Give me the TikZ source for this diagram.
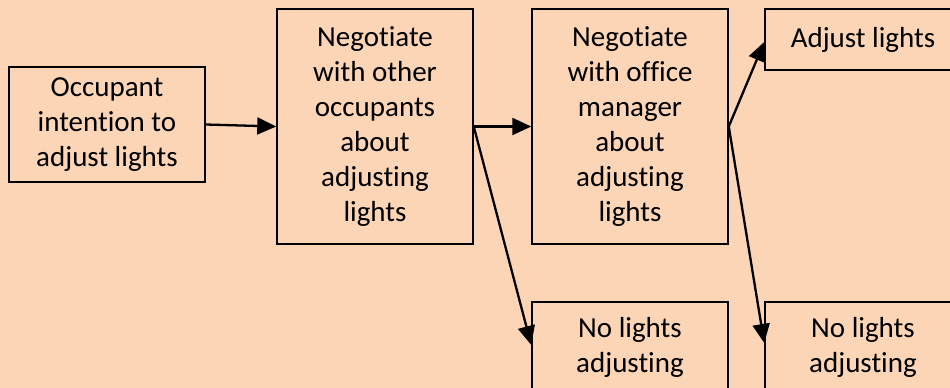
\documentclass[tikz,border=0pt]{standalone}
\usepackage{fontspec}
\setmainfont{Carlito}[Ligatures=NoCommon]
\usetikzlibrary{arrows.meta,positioning}
\definecolor{peachbg}{RGB}{251,213,181}

\begin{document}
\begin{tikzpicture}[x=1pt,y=-1pt,
    box/.style={draw, line width=1.5pt, fill=peachbg, minimum width=196pt, align=center,
                font=\fontsize{29}{35}\selectfont, inner sep=0pt},
    link/.style={line width=2.3pt, -{Triangle[length=19pt,width=17pt]}}]
    \clip (0,0) rectangle (950,388);
    \fill[peachbg] (0,0) rectangle (950,388);

    \node[box, minimum height=115pt] (intent) at (107,124.5) {Occupant\\intention to\\adjust lights};
    \node[box, minimum height=235pt] (occup) at (375,126.5) {Negotiate\\with other\\occupants\\about\\adjusting\\lights};
    \node[box, minimum height=235pt] (manager) at (630,126.5) {Negotiate\\with office\\manager\\about\\adjusting\\lights};
    \node[box, minimum height=61pt] (adjust) at (863,39.5) {Adjust lights};
    \node[box, minimum height=90pt] (nolightsA) at (630,347) {No lights\\adjusting};
    \node[box, minimum height=90pt] (nolightsB) at (863,347) {No lights\\adjusting};

    \draw[link] (intent.east) -- (occup.west);
    \draw[link] (occup.east) -- (manager.west);
    \draw[link] (occup.east) -- ([yshift=2pt]nolightsA.west);
    \draw[link] (manager.east) -- ([yshift=-2.5pt]adjust.west);
    \draw[link] (manager.east) -- ([yshift=4pt]nolightsB.west);
\end{tikzpicture}
\end{document}
